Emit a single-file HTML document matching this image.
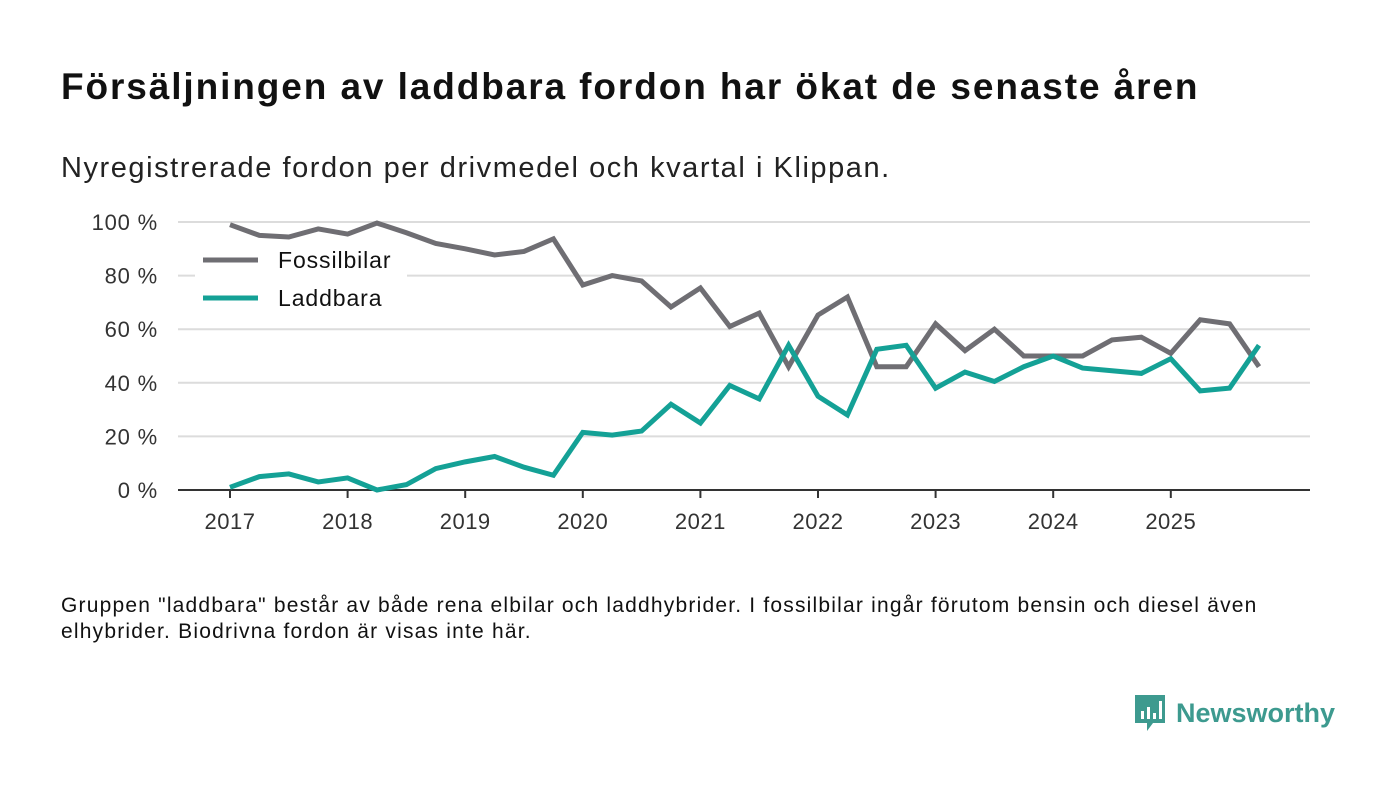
<!DOCTYPE html>
<html><head><meta charset="utf-8"><style>
body{margin:0;width:1400px;height:793px;background:#fff;font-family:"Liberation Sans","DejaVu Sans",sans-serif;position:relative;overflow:hidden;color:#111}
.t{position:absolute;left:61px;top:66px;font-size:37px;font-weight:bold;color:#111;letter-spacing:1.9px;white-space:nowrap}
.s{position:absolute;left:61px;top:152px;font-size:29px;color:#222;letter-spacing:1.55px;white-space:nowrap}
.f{position:absolute;left:61px;top:593px;font-size:21px;line-height:26px;color:#111;width:1300px;letter-spacing:1.2px;white-space:nowrap}
.logo{position:absolute;left:1133px;top:693px;display:flex;align-items:center;color:#3d9a8f;font-weight:bold;font-size:27px}
</style></head><body>
<div class="t">Försäljningen av laddbara fordon har ökat de senaste åren</div>
<div class="s">Nyregistrerade fordon per drivmedel och kvartal i Klippan.</div>
<svg id="chart" width="1400" height="793" style="position:absolute;left:0;top:0"></svg>
<div class="f">Gruppen "laddbara" består av både rena elbilar och laddhybrider. I fossilbilar ingår förutom bensin och diesel även<br>elhybrider. Biodrivna fordon är visas inte här.</div>
<div class="logo"><svg width="34" height="40" viewBox="0 0 34 40"><path d="M2 2h30v28H20l-6 8v-8H2z" fill="#3d9a8f"/><rect x="8" y="18" width="3" height="8" fill="#fff"/><rect x="14" y="14" width="3" height="12" fill="#fff"/><rect x="20" y="20" width="3" height="6" fill="#fff"/><rect x="26" y="8" width="3" height="18" fill="#fff"/></svg><span style="margin-left:9px">Newsworthy</span></div>
<script>
const years=[2017,2018,2019,2020,2021,2022,2023,2024,2025];
const yTicks=[0,20,40,60,80,100];
const fossil=[99,95,94.4,97.4,95.5,99.6,96,92,90,87.7,89,93.7,76.5,80,78,68.3,75.4,61,66,46,65.3,72,46,46,62,52,60,50,50,50,56,57,51,63.5,62,46];
const laddbara=[1,5,6,3,4.5,0,2,8,10.5,12.5,8.5,5.5,21.5,20.5,22,32,25,39,34,54,35,28,52.5,54,38,44,40.5,46,50,45.5,44.5,43.5,49,37,38,54];
const svg=document.getElementById('chart');const NS='http://www.w3.org/2000/svg';
const x=t=>230+(t-2017)*117.6;const y=v=>490-v*2.68;
function mk(tag,a){const e=document.createElementNS(NS,tag);for(const k in a)e.setAttribute(k,a[k]);svg.appendChild(e);return e;}
yTicks.forEach(v=>{
 if(v>0){const g=mk('line',{x1:178,x2:1310,y1:y(v),y2:y(v),stroke:'#dcdcdc','stroke-width':2});
 
 }
 const t=mk('text',{x:158,y:y(v)+8,'text-anchor':'end','font-size':22,fill:'#333','letter-spacing':'0.8'});t.textContent=v+' %';
 
 
});
const ax=mk('line',{x1:178,x2:1310,y1:490,y2:490,stroke:'#333','stroke-width':2});


years.forEach(yr=>{
 const tk=mk('line',{x1:x(yr),x2:x(yr),y1:490,y2:498,stroke:'#333','stroke-width':2});
 
 
 const t=mk('text',{x:x(yr),y:529,'text-anchor':'middle','font-size':22,fill:'#333','letter-spacing':'0.5'});t.textContent=yr;
 
 
});
function line(d,c,n){const p=mk('polyline',{points:d.map((v,i)=>x(2017+i/4)+','+y(v)).join(' '),fill:'none',stroke:c,'stroke-width':5,'stroke-linejoin':'miter'});
 
 }
const bg=mk('rect',{x:195,y:243,width:212,height:72,fill:'#fff'});


line(fossil,'#6f6e73','fossilbilar-line');
line(laddbara,'#14a196','laddbara-line');
[['Fossilbilar','#6f6e73',260],['Laddbara','#14a196',298]].forEach(([n,c,yy])=>{
 const l=mk('line',{x1:203,x2:258,y1:yy,y2:yy,stroke:c,'stroke-width':5});
 
 
 const t=mk('text',{x:278,y:yy+8,'font-size':23,fill:'#111','letter-spacing':'0.9'});t.textContent=n;
 
 
});
</script>
</body></html>
